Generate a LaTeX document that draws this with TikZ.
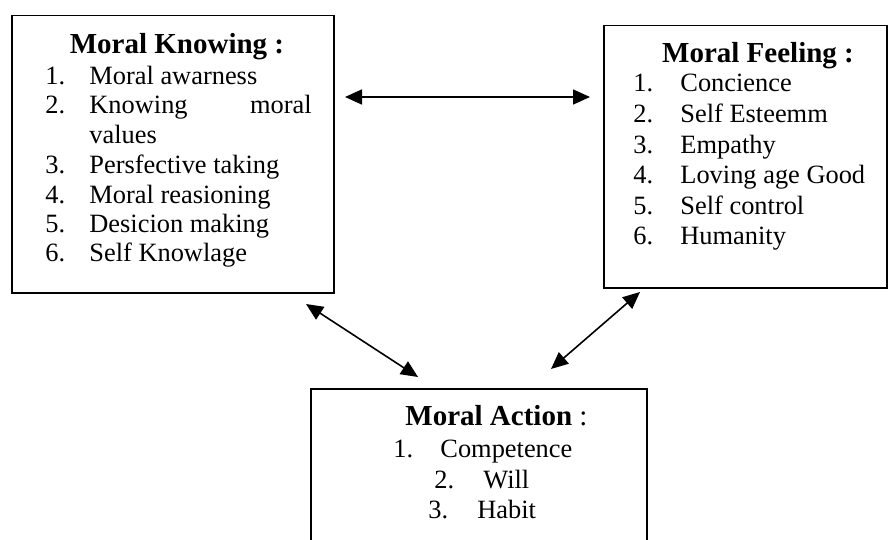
\documentclass[tikz,border=0pt]{standalone}
\usepackage{fontspec}
\setmainfont{Liberation Serif}
\usetikzlibrary{positioning,arrows.meta,calc}

\tikzset{
  box/.style={draw, line width=0.75pt, rectangle, anchor=north west, inner sep=0pt},
  head/.style={font=\fontsize{14.5}{16}\selectfont\bfseries, inner sep=0pt, anchor=base},
  item/.style={font=\fontsize{13.2}{15}\selectfont, inner sep=0pt, anchor=base west},
  link/.style={{Triangle[length=8.5pt,width=7.5pt]}-{Triangle[length=8.5pt,width=7.5pt]}, line width=0.8pt}
}

\begin{document}
\begin{tikzpicture}[x=0.5pt, y=-0.5pt]
    \clip (0,0) rectangle (888,540);

    % boxes
    \node[box, minimum width=161pt, minimum height=138.5pt] (know) at (11,15) {};
    \node[box, minimum width=141.5pt, minimum height=131pt] (feel) at (603,25) {};
    \node[box, minimum width=168pt, minimum height=90pt] (act) at (310,388) {};

    % Moral Knowing
    \node[head] (kt) at (177,54) {Moral Knowing :};
    \node[item] (k1) at (45,84) {1.};  \node[item] (k1t) at (89,84) {Moral awarness};
    \node[item] (k2) at (45,113) {2.}; \node[item] (k2t) at (89,113) {Knowing};
    \node[item, anchor=base east] (k2m) at (312,113) {moral};
    \node[item] (k2v) at (89,143) {values};
    \node[item] (k3) at (45,173) {3.}; \node[item] (k3t) at (89,173) {Persfective taking};
    \node[item] (k4) at (45,203) {4.}; \node[item] (k4t) at (89,203) {Moral reasioning};
    \node[item] (k5) at (45,232) {5.}; \node[item] (k5t) at (89,232) {Desicion making};
    \node[item] (k6) at (45,261) {6.}; \node[item] (k6t) at (89,261) {Self Knowlage};

    % Moral Feeling
    \node[head] (ft) at (758,63) {Moral Feeling :};
    \node[item] (f1) at (633,91) {1.};  \node[item] (f1t) at (680,91) {Concience};
    \node[item] (f2) at (633,122) {2.}; \node[item] (f2t) at (680,122) {Self Esteemm};
    \node[item] (f3) at (633,153) {3.}; \node[item] (f3t) at (680,153) {Empathy};
    \node[item] (f4) at (633,184) {4.}; \node[item] (f4t) at (680,184) {Loving age Good};
    \node[item] (f5) at (633,214) {5.}; \node[item] (f5t) at (680,214) {Self control};
    \node[item] (f6) at (633,244) {6.}; \node[item] (f6t) at (680,244) {Humanity};

    % Moral Action
    \node[head, anchor=base west] (at) at (405,425) {Moral Action\mdseries\ :};
    \node[item] (a1) at (393,457) {1.}; \node[item] (a1t) at (440,457) {Competence};
    \node[item] (a2) at (434,488) {2.}; \node[item] (a2t) at (483,488) {Will};
    \node[item] (a3) at (428,518) {3.}; \node[item] (a3t) at (477,518) {Habit};

    % arrow ends
    \coordinate (kf1) at (345,97);
    \coordinate (kf2) at (590,97);
    \coordinate (ka1) at (306,304);
    \coordinate (ka2) at (418,377);
    \coordinate (fa1) at (640,292);
    \coordinate (fa2) at (551,369);

    \draw[link] (kf1) -- (kf2);
    \draw[link] (ka1) -- (ka2);
    \draw[link] (fa1) -- (fa2);
\end{tikzpicture}
\end{document}
